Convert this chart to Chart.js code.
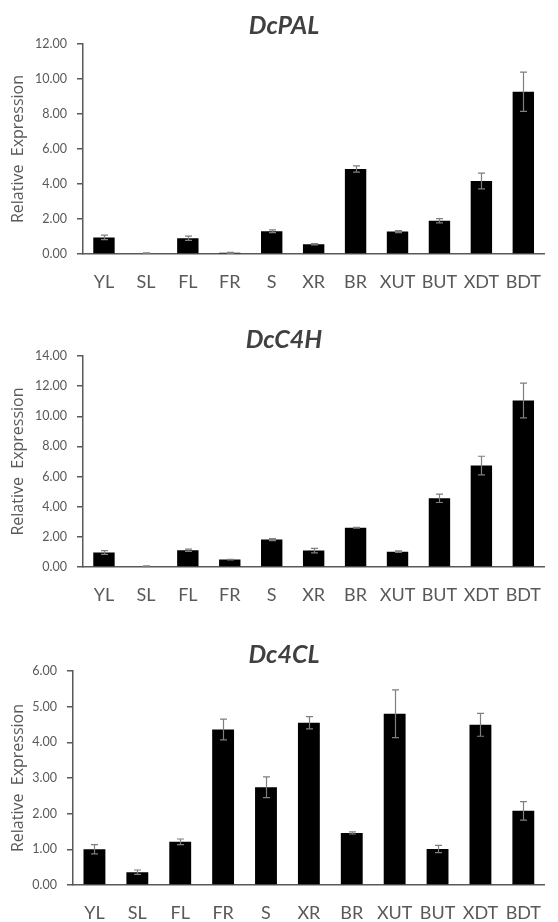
<!DOCTYPE html>
<html>
<head>
<meta charset="utf-8">
<script src="https://cdn.jsdelivr.net/npm/chart.js@4/dist/chart.umd.min.js"></script>
<style>
  html, body { margin: 0; padding: 0; background: #fff; }
  .box { position: absolute; left: 0; width: 558px; }
</style>
</head>
<body>
<div class="box" style="top:0;height:300px"><canvas id="pal"></canvas></div>
<div class="box" style="top:300px;height:313px"><canvas id="c4h"></canvas></div>
<div class="box" style="top:613px;height:309px"><canvas id="cl4"></canvas></div>
<script>
var categories = ['YL', 'SL', 'FL', 'FR', 'S', 'XR', 'BR', 'XUT', 'BUT', 'XDT', 'BDT'];

var palValues = [0.95, 0.05, 0.90, 0.07, 1.30, 0.56, 4.86, 1.28, 1.90, 4.17, 9.27];
var palErrors = [0.13, 0.02, 0.12, 0.03, 0.08, 0.04, 0.18, 0.06, 0.12, 0.45, 1.12];
var palTicks = [0, 2, 4, 6, 8, 10, 12];

var c4hValues = [0.96, 0.05, 1.11, 0.49, 1.82, 1.09, 2.60, 1.02, 4.56, 6.73, 11.05];
var c4hErrors = [0.12, 0.02, 0.07, 0.02, 0.07, 0.15, 0.03, 0.05, 0.28, 0.62, 1.15];
var c4hTicks = [0, 2, 4, 6, 8, 10, 12, 14];

var cl4Values = [1.00, 0.36, 1.21, 4.36, 2.74, 4.55, 1.46, 4.80, 1.01, 4.49, 2.08];
var cl4Errors = [0.13, 0.06, 0.08, 0.29, 0.29, 0.17, 0.03, 0.67, 0.10, 0.32, 0.26];
var cl4Ticks = [0, 1, 2, 3, 4, 5, 6];

var GREY = '#595959';
var FONT = 'Lato, "Open Sans", sans-serif';

// draws +/- error whiskers on top of each bar, using the y scale
var errorBars = {
    id: 'errorBars',
    afterDatasetsDraw: function (chart) {
        var ctx = chart.ctx;
        var yScale = chart.scales.y;
        chart.data.datasets.forEach(function (ds, i) {
            chart.getDatasetMeta(i).data.forEach(function (bar, j) {
                var v = ds.data[j];
                var e = ds.errors[j];
                var top = yScale.getPixelForValue(v + e);
                var bot = yScale.getPixelForValue(Math.max(0, v - e));
                var x = Math.round(bar.x) + 0.5;
                ctx.save();
                ctx.strokeStyle = '#7f7f7f';
                ctx.lineWidth = 1.2;
                ctx.beginPath();
                ctx.moveTo(x, top);
                ctx.lineTo(x, bot);
                ctx.moveTo(x - 3.5, top);
                ctx.lineTo(x + 3.5, top);
                ctx.moveTo(x - 3.5, bot);
                ctx.lineTo(x + 3.5, bot);
                ctx.stroke();
                ctx.restore();
            });
        });
    }
};

function makeChart(id, title, values, errors, ticks, opts) {
    var config = {
        type: 'bar',
        data: {
            labels: categories,
            datasets: [{
                data: values,
                errors: errors,
                backgroundColor: '#000000',
                borderWidth: 0,
                barPercentage: 0.51,
                categoryPercentage: 1.0,
            }],
        },
        options: {
            responsive: true,
            maintainAspectRatio: false,
            animation: false,
            layout: {
                padding: {left: 10, right: 0, top: 0, bottom: 0},
            },
            plugins: {
                legend: {display: false},
                tooltip: {enabled: false},
                title: {
                    display: true,
                    text: title,
                    color: '#404040',
                    font: {family: FONT, size: 25, weight: 'bold', style: 'italic', lineHeight: 1.2},
                    padding: {top: opts.titleTop, bottom: opts.titleBottom},
                },
            },
            scales: {
                x: {
                    grid: {display: true, drawOnChartArea: false, drawTicks: false},
                    border: {display: true, color: GREY, width: 1.5},
                    ticks: {
                        color: GREY,
                        padding: 17,
                        maxRotation: 0,
                        autoSkip: false,
                        font: {family: FONT, size: 18},
                    },
                    afterFit: function (scale) { scale.height = opts.xHeight; },
                },
                y: {
                    min: ticks[0],
                    max: ticks[ticks.length - 1],
                    grid: {display: true, drawOnChartArea: false, drawTicks: true, tickLength: 6, color: GREY, lineWidth: 1.5},
                    border: {display: true, color: GREY, width: 1.5},
                    ticks: {
                        color: GREY,
                        padding: 10,
                        font: {family: FONT, size: 12.5},
                        callback: function (v) { return v.toFixed(2); },
                    },
                    afterBuildTicks: function (scale) {
                        scale.ticks = ticks.map(function (t) { return {value: t}; });
                    },
                    title: {
                        display: true,
                        text: 'Relative  Expression',
                        color: GREY,
                        font: {family: '"Open Sans", Lato, sans-serif', size: 16, lineHeight: 1},
                        padding: {top: 0, bottom: 0},
                    },
                    afterFit: function (scale) { scale.width = opts.yWidth; },
                },
            },
        },
        plugins: [errorBars],
    };
    return new Chart(document.getElementById(id), config);
}

makeChart('pal', 'DcPAL', palValues, palErrors, palTicks,
    {titleTop: 11, titleBottom: 3, xHeight: 46, yWidth: 73});
makeChart('c4h', 'DcC4H', c4hValues, c4hErrors, c4hTicks,
    {titleTop: 24.5, titleBottom: 1.5, xHeight: 46, yWidth: 73});
makeChart('cl4', 'Dc4CL', cl4Values, cl4Errors, cl4Ticks,
    {titleTop: 27, titleBottom: 1, xHeight: 37, yWidth: 63});
</script>
</body>
</html>
